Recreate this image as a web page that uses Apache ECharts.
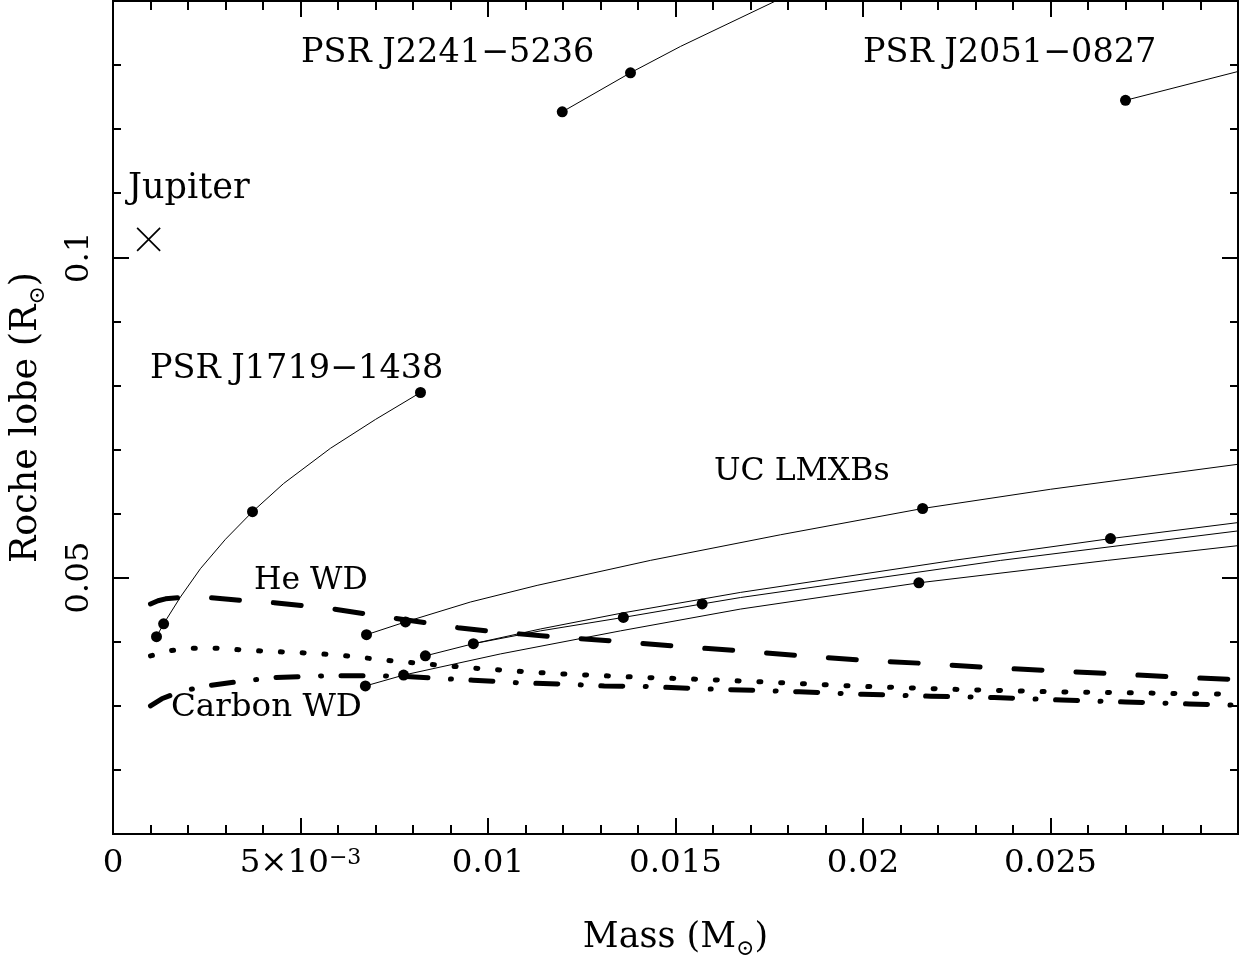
<!DOCTYPE html>
<html>
<head>
<meta charset="utf-8">
<script src="https://cdn.jsdelivr.net/npm/echarts@6/dist/echarts.min.js"></script>
<style>
html,body{margin:0;padding:0;background:#fff;}
#c{width:1250px;height:963px;}
</style>
</head>
<body>
<div id="c"></div>
<script>
const FONT = 'DejaVu Serif';

// ---- axis ticks / labels ----
const xTickValues = [0, 0.005, 0.01, 0.015, 0.02, 0.025];
const xTickLabels = ['0', '{a|5×10}{e|−3}', '0.01', '0.015', '0.02', '0.025'];
const yMajorTicks = [0.05, 0.1];
const yMinorTicks = [0.02, 0.03, 0.04, 0.06, 0.07, 0.08, 0.09, 0.11, 0.12, 0.13];

// ---- data: [mass (Msun), Roche lobe (Rsun)] ----
const jupiter = [[0.00095, 0.1028]];

const j1719Line = [[0.00116,0.0408],[0.00135,0.0428],[0.0018,0.0470],[0.00233,0.0514],[0.0030,0.0560],[0.00372,0.0603],[0.00455,0.0647],[0.0058,0.0702],[0.0070,0.0747],[0.0082,0.0789]];
const j1719Dots = [[0.00116,0.0408],[0.00135,0.0428],[0.00372,0.0603],[0.0082,0.0789]];

const j2241Line = [[0.01198,0.1227],[0.0138,0.1288],[0.01513,0.1329],[0.01767,0.1400],[0.01833,0.1418]];
const j2241Dots = [[0.01198,0.1227],[0.0138,0.1288]];

const j2051Line = [[0.027,0.1245],[0.030,0.1290]];
const j2051Dots = [[0.027,0.1245]];

const ucA = [[0.00676,0.0411],[0.0078,0.0431],[0.00953,0.0462],[0.01131,0.0488],[0.01433,0.0527],[0.0178,0.0567],[0.02159,0.0608],[0.025,0.0638],[0.030,0.0677]];
const ucADots = [[0.00676,0.0411],[0.0078,0.0431],[0.02159,0.0608]];

const ucB = [[0.00833,0.0378],[0.00961,0.0397],[0.0114,0.0420],[0.01359,0.0445],[0.01673,0.0477],[0.02241,0.0527],[0.0266,0.0561],[0.030,0.0586]];
const ucBDots = [[0.00833,0.0378],[0.00961,0.0397],[0.0266,0.0561]];

const ucB2 = [[0.00961,0.0397],[0.0114,0.0417],[0.01361,0.0438],[0.01571,0.0459],[0.01673,0.0469],[0.02367,0.0527],[0.030,0.0573]];
const ucB2Dots = [[0.01361,0.0438],[0.01571,0.0459]];

const ucC = [[0.00673,0.0331],[0.00775,0.0348],[0.01033,0.0381],[0.01353,0.0417],[0.01673,0.0451],[0.02149,0.0492],[0.02652,0.0527],[0.030,0.0550]];
const ucCDots = [[0.00673,0.0331],[0.00775,0.0348],[0.02149,0.0492]];

const heWD = [[0.001,0.0459],[0.0012,0.0464],[0.0014,0.0467],[0.0018,0.0469],[0.0026,0.0469],[0.0035,0.0464],[0.0043,0.0461],[0.0051,0.0456],[0.0059,0.0451],[0.0068,0.0443],[0.0076,0.0436],[0.0084,0.0429],[0.0092,0.0422],[0.0101,0.0416],[0.0117,0.0408],[0.0134,0.0401],[0.0150,0.0393],[0.0167,0.0386],[0.0184,0.0378],[0.0200,0.0371],[0.0217,0.0366],[0.0233,0.0360],[0.0250,0.0355],[0.0267,0.0350],[0.0283,0.0345],[0.0300,0.0341]];

const dottedWD = [[0.001,0.0378],[0.0015,0.0386],[0.0021,0.0390],[0.0027,0.0390],[0.0038,0.0386],[0.0050,0.0383],[0.0061,0.0379],[0.0073,0.0371],[0.0084,0.0365],[0.0096,0.0359],[0.0108,0.0354],[0.0119,0.0350],[0.0131,0.0347],[0.0143,0.0344],[0.0154,0.0342],[0.0171,0.0338],[0.0197,0.0331],[0.0223,0.0326],[0.0250,0.0322],[0.0300,0.0318]];

const carbonWD = [[0.001,0.0300],[0.0013,0.0311],[0.0016,0.0318],[0.0020,0.0325],[0.0026,0.0332],[0.0035,0.0339],[0.0043,0.0344],[0.0051,0.0346],[0.0060,0.0347],[0.0070,0.0347],[0.0078,0.0346],[0.0086,0.0343],[0.0096,0.0340],[0.0108,0.0336],[0.0120,0.0334],[0.0131,0.0331],[0.0143,0.0330],[0.0155,0.0327],[0.0183,0.0322],[0.0200,0.0318],[0.0218,0.0315],[0.0235,0.0313],[0.0253,0.0309],[0.0270,0.0306],[0.0287,0.0303],[0.0300,0.0301]];

// ---- helpers ----
const BLACK = '#000';
function thin(data) {
  return {type:'line', data:data, symbol:'none', showSymbol:false, silent:true, clip:true,
          lineStyle:{color:BLACK, width:1, opacity:1}, z:3, animation:false};
}
function dots(data) {
  return {type:'scatter', data:data, symbol:'circle', symbolSize:11, silent:true,
          itemStyle:{color:BLACK, opacity:1}, z:5, animation:false};
}
function thick(data, dash) {
  return {type:'line', data:data, symbol:'none', showSymbol:false, silent:true, clip:true,
          lineStyle:{color:BLACK, width:5, opacity:1, type:dash, cap:'round', join:'round'}, z:2, animation:false};
}

const axisLineStyle = {show:true, onZero:false, lineStyle:{color:BLACK, width:2}};
const tickLine = {color:BLACK, width:2};

function nameRich(size) {
  return {
    n:{fontFamily:FONT, fontSize:size, lineHeight:44, color:BLACK},
    s:{fontFamily:FONT, fontSize:22, lineHeight:12, verticalAlign:'bottom', color:BLACK}
  };
}

function xAxisBase(pos) {
  return {
    type:'value', position:pos, min:0, max:0.03, interval:0.005,
    axisLine:axisLineStyle,
    axisTick:{show:true, inside:true, length:16, lineStyle:tickLine},
    minorTick:{show:true, splitNumber:5, length:9, lineStyle:tickLine},
    splitLine:{show:false}, minorSplitLine:{show:false}
  };
}
function yAxisBase(pos, ticks, len) {
  return {
    type:'value', position:pos, min:0.01, max:0.14,
    axisLine:axisLineStyle,
    axisTick:{show:true, inside:true, length:len, customValues:ticks, lineStyle:tickLine},
    axisLabel:{show:false},
    splitLine:{show:false}
  };
}

const xBottom = xAxisBase('bottom');
xBottom.axisLabel = {
  show:true, customValues:xTickValues, margin:13, color:BLACK,
  fontFamily:FONT, fontSize:32.5, lineHeight:33,
  formatter:function(v){
    for (let i = 0; i < xTickValues.length; i++) {
      if (Math.abs(v - xTickValues[i]) < 1e-9) return xTickLabels[i];
    }
    return '';
  },
  rich:{
    a:{fontFamily:FONT, fontSize:32.5, lineHeight:33, color:BLACK},
    e:{fontFamily:FONT, fontSize:22, lineHeight:13, verticalAlign:'top', color:BLACK}
  }
};
xBottom.name = '{n|Mass (M}{s|⊙}{n|)}';
xBottom.nameLocation = 'middle';
xBottom.nameGap = 82;
xBottom.nameTextStyle = {fontFamily:FONT, fontSize:35, color:BLACK, rich:nameRich(35)};

const xTop = xAxisBase('top');
xTop.axisLabel = {show:false};

const yLeftMajor = yAxisBase('left', yMajorTicks, 16);
yLeftMajor.axisLabel = {
  show:true, customValues:yMajorTicks, rotate:90, margin:17, color:BLACK,
  fontFamily:FONT, fontSize:32.5
};
yLeftMajor.name = '{n|Roche lobe (R}{s|⊙}{n|)}';
yLeftMajor.nameLocation = 'middle';
yLeftMajor.nameRotate = 90;
yLeftMajor.nameGap = 64;
yLeftMajor.nameTextStyle = {fontFamily:FONT, fontSize:36.5, color:BLACK, rich:nameRich(36.5)};

const yLeftMinor = yAxisBase('left', yMinorTicks, 8);
const yRightMajor = yAxisBase('right', yMajorTicks, 16);
const yRightMinor = yAxisBase('right', yMinorTicks, 8);

function label(text, x, y, size) {
  return {type:'text', x:x, y:y, silent:true,
          style:{text:text, font:size + 'px "DejaVu Serif"', fill:BLACK,
                 align:'left', verticalAlign:'middle', textAlign:'left', textVerticalAlign:'middle'}};
}

const option = {
  animation:false,
  backgroundColor:'#fff',
  grid:{left:113, right:12, top:1, bottom:129, containLabel:false, outerBoundsMode:'none'},
  xAxis:[xBottom, xTop],
  yAxis:[yLeftMajor, yLeftMinor, yRightMajor, yRightMinor],
  series:[
    thick(heWD, [28, 34]),
    thick(dottedWD, [2, 19.8]),
    thick(carbonWD, [22, 22.5, 1, 19.5]),
    thin(j1719Line), thin(j2241Line), thin(j2051Line),
    thin(ucA), thin(ucB), thin(ucB2), thin(ucC),
    dots(j1719Dots), dots(j2241Dots), dots(j2051Dots),
    dots(ucADots), dots(ucBDots), dots(ucB2Dots), dots(ucCDots),
    {type:'scatter', data:jupiter, symbol:'path://M0,0L10,10M10,0L0,10', symbolSize:23, silent:true,
     itemStyle:{color:'none', borderColor:BLACK, borderWidth:1.7, opacity:1}, z:5, animation:false}
  ],
  graphic:[
    label('Jupiter', 128, 189, 35),
    label('PSR J1719−1438', 150, 369, 33.5),
    label('PSR J2241−5236', 301, 53, 33.5),
    label('PSR J2051−0827', 863, 53, 33.5),
    label('UC LMXBs', 714, 472, 31.5),
    label('He WD', 254, 581, 31.5),
    label('Carbon WD', 171, 708, 32.5)
  ]
};

const chart = echarts.init(document.getElementById('c'), null, {renderer:'canvas'});
chart.setOption(option);
</script>
</body>
</html>
